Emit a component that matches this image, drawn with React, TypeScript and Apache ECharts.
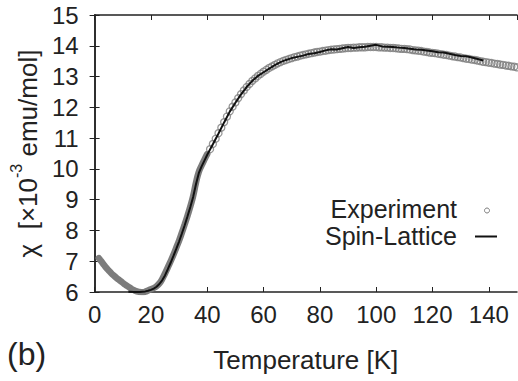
import React, { useEffect, useRef } from "react";
import * as echarts from "echarts";

// Experimental data, low-temperature part (dense, drawn as a thick band)
const lowTemp = [1.5, 2, 3, 4, 5, 6, 7, 8, 9, 10, 11, 12, 13, 14, 15, 16, 17, 18, 19, 20, 21, 22, 23, 24, 25, 26, 27, 28, 29, 30, 31, 32, 33, 34, 35, 36, 37, 38, 39, 40];
const lowChi = [7.10, 7.04, 6.92, 6.80, 6.70, 6.60, 6.52, 6.44, 6.37, 6.30, 6.23, 6.17, 6.11, 6.06, 6.02, 6.00, 5.99, 6.01, 6.05, 6.09, 6.13, 6.19, 6.28, 6.42, 6.60, 6.80, 7.00, 7.21, 7.44, 7.67, 7.93, 8.20, 8.48, 8.78, 9.12, 9.55, 9.90, 10.11, 10.30, 10.48];

// Experimental data, higher-temperature part (open circles)
const highTemp = [41, 42, 43, 44, 45, 46, 47, 48, 49, 50, 51, 52, 53, 54, 55, 56, 57, 58, 59, 60, 61, 62, 63, 64, 65, 66, 67, 68, 69, 70, 71, 72, 73, 74, 75, 76, 77, 78, 79, 80, 81, 82, 83, 84, 85, 86, 87, 88, 89, 90, 91, 92, 93, 94, 95, 96, 97, 98, 99, 100, 101, 102, 103, 104, 105, 106, 107, 108, 109, 110, 111, 112, 113, 114, 115, 116, 117, 118, 119, 120, 121, 122, 123, 124, 125, 126, 127, 128, 129, 130, 131, 132, 133, 134, 135, 136, 137, 138, 139, 140, 141, 142, 143, 144, 145, 146, 147, 148, 149, 150];
const highChi = [10.64, 10.81, 10.98, 11.16, 11.34, 11.52, 11.70, 11.87, 12.02, 12.16, 12.30, 12.43, 12.55, 12.66, 12.76, 12.86, 12.94, 13.02, 13.09, 13.16, 13.22, 13.28, 13.33, 13.38, 13.43, 13.47, 13.51, 13.54, 13.57, 13.60, 13.63, 13.65, 13.68, 13.70, 13.72, 13.74, 13.76, 13.78, 13.80, 13.81, 13.83, 13.84, 13.86, 13.87, 13.88, 13.89, 13.90, 13.91, 13.92, 13.93, 13.93, 13.94, 13.94, 13.95, 13.95, 13.95, 13.96, 13.96, 13.96, 13.96, 13.95, 13.95, 13.94, 13.94, 13.93, 13.93, 13.92, 13.91, 13.90, 13.90, 13.89, 13.88, 13.86, 13.85, 13.84, 13.83, 13.81, 13.80, 13.78, 13.77, 13.76, 13.74, 13.73, 13.71, 13.70, 13.68, 13.66, 13.65, 13.63, 13.62, 13.60, 13.58, 13.57, 13.55, 13.54, 13.52, 13.50, 13.48, 13.47, 13.45, 13.44, 13.42, 13.41, 13.39, 13.38, 13.36, 13.35, 13.33, 13.32, 13.30];

// Spin-Lattice model curve
const fitTemp = [12, 14, 16, 18, 19, 20, 21, 22, 23, 24, 25, 26, 27, 28, 29, 30, 31, 32, 33, 34, 35, 36, 37, 38, 39, 40, 42, 44, 46, 48, 50, 52, 54, 56, 58, 60, 62, 64, 66, 68, 70, 72, 74, 76, 78, 80, 82, 84, 86, 88, 90, 92, 94, 96, 98, 100, 102, 104, 106, 108, 110, 112, 114, 116, 118, 120, 122, 124, 126, 128, 130, 132, 134, 136, 138];
const fitChi = [6.01, 6.00, 6.00, 6.02, 6.04, 6.07, 6.11, 6.17, 6.26, 6.38, 6.54, 6.74, 6.95, 7.17, 7.40, 7.64, 7.90, 8.17, 8.46, 8.76, 9.09, 9.50, 9.86, 10.08, 10.27, 10.46, 10.80, 11.15, 11.51, 11.86, 12.15, 12.42, 12.66, 12.86, 13.02, 13.14, 13.26, 13.37, 13.47, 13.54, 13.60, 13.64, 13.68, 13.73, 13.76, 13.80, 13.85, 13.89, 13.88, 13.92, 13.96, 13.93, 13.95, 13.97, 14.00, 14.03, 13.98, 13.97, 13.96, 13.94, 13.93, 13.90, 13.88, 13.87, 13.85, 13.82, 13.79, 13.78, 13.74, 13.70, 13.67, 13.66, 13.62, 13.57, 13.52];

const xTicksInterval = 20;
const yTicksInterval = 1;

const FONT = "'Liberation Sans', Arial, Helvetica, sans-serif";
const GRAY = "#7c7c7c";

export default function App() {
  const ref = useRef<HTMLDivElement>(null);
  useEffect(() => {
    if (!ref.current) return;
    const chart = echarts.init(ref.current, null, { renderer: "svg" });
    const zip = (a: number[], b: number[]) => a.map((v, i) => [v, b[i]]);
    const axisLine = { show: true, lineStyle: { color: "#222", width: 1.5 } };
    const tick = { show: true, inside: true, length: 5, lineStyle: { color: "#222", width: 1 } };
    chart.setOption({
      animation: false,
      backgroundColor: "#fff",
      grid: { left: 94, right: 1, top: 15, bottom: 89, containLabel: false },
      xAxis: [
        {
          type: "value", min: 0, max: 150, interval: xTicksInterval, position: "bottom",
          axisLine, axisTick: tick, splitLine: { show: false },
          axisLabel: { fontSize: 24, fontFamily: FONT, color: "#222", margin: 10, showMaxLabel: false },
          name: "Temperature [K]", nameLocation: "middle", nameGap: 55,
          nameTextStyle: { fontSize: 26, fontFamily: FONT, color: "#222" },
        },
        {
          type: "value", min: 0, max: 150, interval: xTicksInterval, position: "top",
          axisLine, axisTick: tick, splitLine: { show: false }, axisLabel: { show: false },
        },
      ],
      yAxis: [
        {
          type: "value", min: 6, max: 15, interval: yTicksInterval, position: "left",
          axisLine, axisTick: tick, splitLine: { show: false },
          axisLabel: { fontSize: 24, fontFamily: FONT, color: "#222", margin: 16 },
          name: "{a|χ  [×10}{s|-3}{a| emu/mol]}", nameLocation: "middle", nameRotate: 90, nameGap: 43,
          nameTextStyle: {
            color: "#222",
            rich: {
              a: { fontSize: 26, fontFamily: FONT, color: "#222", lineHeight: 40 },
              s: { fontSize: 16, fontFamily: FONT, color: "#222", lineHeight: 18, verticalAlign: "top" },
            },
          },
        },
        {
          type: "value", min: 6, max: 15, interval: yTicksInterval, position: "right",
          axisLine, axisTick: tick, splitLine: { show: false }, axisLabel: { show: false },
        },
      ],
      series: [
        {
          name: "Experiment band", type: "line", data: zip(lowTemp, lowChi), smooth: true,
          symbol: "none", lineStyle: { color: GRAY, width: 6.5, cap: "round" }, z: 2,
        },
        {
          name: "Experiment", type: "scatter", data: zip(highTemp, highChi),
          symbol: "circle", symbolSize: 7,
          itemStyle: { color: "rgba(255,255,255,0)", borderColor: GRAY, borderWidth: 1.3 }, z: 3,
        },
        {
          name: "Spin-Lattice", type: "line", data: zip(fitTemp, fitChi), smooth: false,
          symbol: "none", lineStyle: { color: "#111", width: 2 }, z: 4,
        },
      ],
      graphic: [
        { type: "text", left: 7, top: 338, style: { text: "(b)", fontSize: 32, fontFamily: FONT, fill: "#222" } },
        { type: "text", x: 457, y: 209, style: { text: "Experiment", fontSize: 25, fontFamily: FONT, fill: "#222", align: "right", verticalAlign: "middle" } },
        { type: "text", x: 457, y: 236, style: { text: "Spin-Lattice", fontSize: 25, fontFamily: FONT, fill: "#222", align: "right", verticalAlign: "middle" } },
        { type: "circle", shape: { cx: 487, cy: 210.5, r: 2.5 }, style: { fill: "none", stroke: GRAY, lineWidth: 1 } },
        { type: "line", shape: { x1: 475, y1: 236.5, x2: 497, y2: 236.5 }, style: { stroke: "#111", lineWidth: 2 } },
      ],
    });
    return () => chart.dispose();
  }, []);
  return <div ref={ref} style={{ position: "fixed", left: 0, top: 0, width: 518, height: 381 }} />;
}
